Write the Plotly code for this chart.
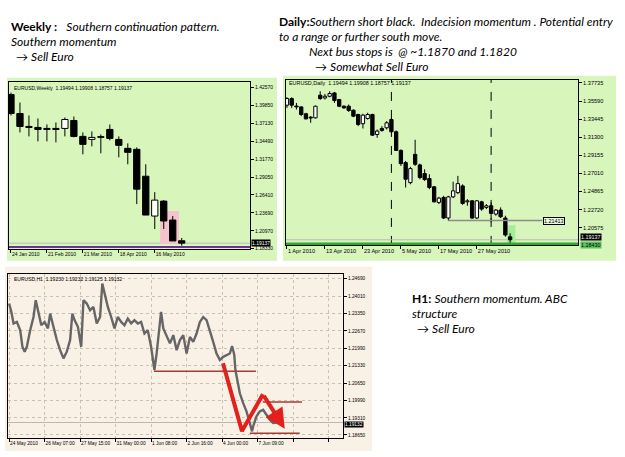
import plotly.graph_objects as go

W, H = 625, 457
def px(x): return x / W
def py(y): return 1 - y / H

# ---------------- Weekly data ----------------
weekly_ticks_idx = [0, 4, 8, 12, 16]
weekly_ticks_txt = ["24 Jan 2010", "21 Feb 2010", "21 Mar 2010", "18 Apr 2010", "16 May 2010"]
weekly_open  = [1.4152, 1.3867, 1.3672, 1.3657, 1.3642, 1.3642, 1.3642, 1.3762, 1.3522, 1.3477,
                1.3507, 1.3627, 1.3477, 1.3342, 1.3327, 1.2922, 1.2322, 1.2547, 1.2262, 1.19494]
weekly_high  = [1.4182, 1.4032, 1.3837, 1.3792, 1.3702, 1.3732, 1.3807, 1.3822, 1.3582, 1.3597,
                1.3552, 1.3702, 1.3522, 1.3417, 1.3357, 1.3102, 1.2682, 1.2562, 1.2322, 1.19908]
weekly_low   = [1.3837, 1.3582, 1.3522, 1.3447, 1.3447, 1.3432, 1.3522, 1.3507, 1.3252, 1.3372,
                1.3267, 1.3462, 1.3207, 1.3102, 1.2502, 1.2337, 1.2127, 1.2127, 1.1947, 1.18757]
weekly_close = [1.3867, 1.3672, 1.3657, 1.3627, 1.3627, 1.3627, 1.3777, 1.3522, 1.3402, 1.3507,
                1.3510, 1.3492, 1.3387, 1.3282, 1.2727, 1.2337, 1.2562, 1.2247, 1.1947, 1.19137]
weekly_yticks = [1.42570, 1.39850, 1.37130, 1.34490, 1.31770, 1.29050, 1.26410, 1.23690, 1.20970, 1.18330]

# ---------------- Daily data ----------------
daily_ticks_idx = [0, 8, 16, 24, 32, 40]
daily_ticks_txt = ["1 Apr 2010", "13 Apr 2010", "23 Apr 2010", "5 May 2010", "17 May 2010", "27 May 2010"]
daily_open  = [1.3510, 1.3589, 1.3494, 1.3490, 1.3408, 1.3362, 1.3360, 1.3628, 1.3596, 1.3616,
               1.3655, 1.3577, 1.3498, 1.3498, 1.3451, 1.3400, 1.3290, 1.3352, 1.3400, 1.3163,
               1.3234, 1.3242, 1.3340, 1.3195, 1.2974, 1.2829, 1.2592, 1.2927, 1.2802, 1.2699,
               1.2640, 1.2542, 1.2357, 1.2416, 1.2172, 1.2423, 1.2473, 1.2553, 1.2364, 1.2376,
               1.2172, 1.2364, 1.2298, 1.2317, 1.2219, 1.2266, 1.2172, 1.19494]
daily_high  = [1.3604, 1.3604, 1.3537, 1.3498, 1.3420, 1.3380, 1.3506, 1.3675, 1.3644, 1.3675,
               1.3667, 1.3585, 1.3510, 1.3518, 1.3459, 1.3408, 1.3408, 1.3420, 1.3408, 1.3222,
               1.3262, 1.3321, 1.3360, 1.3211, 1.2986, 1.2849, 1.2778, 1.3100, 1.2817, 1.2750,
               1.2691, 1.2553, 1.2423, 1.2435, 1.2435, 1.2603, 1.2672, 1.2572, 1.2396, 1.2384,
               1.2384, 1.2376, 1.2337, 1.2357, 1.2278, 1.2298, 1.2199, 1.19908]
daily_low   = [1.3478, 1.3478, 1.3459, 1.3380, 1.3340, 1.3301, 1.3352, 1.3573, 1.3577, 1.3604,
               1.3537, 1.3486, 1.3467, 1.3431, 1.3368, 1.3262, 1.3234, 1.3340, 1.3144, 1.3124,
               1.3195, 1.3222, 1.3183, 1.2967, 1.2790, 1.2534, 1.2572, 1.2790, 1.2632, 1.2612,
               1.2514, 1.2357, 1.2337, 1.2160, 1.2140, 1.2408, 1.2455, 1.2329, 1.2317, 1.2160,
               1.2160, 1.2258, 1.2278, 1.2120, 1.2199, 1.2172, 1.1951, 1.18757]
daily_close = [1.3589, 1.3510, 1.3490, 1.3400, 1.3348, 1.3358, 1.3498, 1.3589, 1.3616, 1.3648,
               1.3565, 1.3498, 1.3478, 1.3447, 1.3380, 1.3282, 1.3392, 1.3400, 1.3155, 1.3203,
               1.3211, 1.3301, 1.3195, 1.2974, 1.2817, 1.2632, 1.2758, 1.2809, 1.2652, 1.2628,
               1.2534, 1.2364, 1.2408, 1.2172, 1.2423, 1.2494, 1.2580, 1.2345, 1.2376, 1.2172,
               1.2376, 1.2278, 1.2317, 1.2227, 1.2266, 1.2187, 1.1971, 1.19137]
daily_yticks = [1.37735, 1.35590, 1.33445, 1.31300, 1.29155, 1.27010, 1.24865, 1.22720, 1.20575]
daily_separators = [22, 43]          # bar index of first bar of May / June
daily_level = 1.21413
daily_level_start, daily_level_end = 34, 53.8

# ---------------- H1 data ----------------
h1_ticks_idx = [0, 32, 64, 96, 128, 160, 192, 224, 256, 288]
h1_ticks_txt = ["24 May 2010", "26 May 07:00", "27 May 15:00", "31 May 00:00", "1 Jun 08:00",
                "2 Jun 16:00", "4 Jun 00:00", "7 Jun 09:00", "", ""]
h1_idx = [0, 2, 4, 7, 10, 12, 14, 16, 19, 22, 24, 26, 29, 32, 35, 37, 40, 43, 46, 49,
          52, 55, 57, 59, 62, 65, 67, 70, 73, 76, 79, 82, 84, 86, 89, 92, 95, 98, 101, 104,
          107, 110, 113, 116, 119, 122, 125, 128, 131, 133, 135, 137, 139, 142, 145, 148, 151, 154, 157, 160,
          163, 166, 169, 172, 175, 178, 181, 184, 187, 190, 193, 196, 199, 201, 203, 204, 206, 208, 211, 214,
          217, 219, 220, 223, 226, 229, 232, 235, 238, 241]
h1_close = [1.2373, 1.2341, 1.2296, 1.2302, 1.2270, 1.2206, 1.2187, 1.2206, 1.2270, 1.2321,
            1.2386, 1.2347, 1.2289, 1.2302, 1.2277, 1.2334, 1.2283, 1.2232, 1.2193, 1.2161,
            1.2187, 1.2232, 1.2334, 1.2309, 1.2283, 1.2206, 1.2386, 1.2373, 1.2347, 1.2360,
            1.2296, 1.2321, 1.2450, 1.2411, 1.2360, 1.2321, 1.2277, 1.2321, 1.2302, 1.2289,
            1.2315, 1.2296, 1.2309, 1.2296, 1.2302, 1.2257, 1.2270, 1.2206, 1.2116, 1.2180,
            1.2270, 1.2341, 1.2277, 1.2251, 1.2219, 1.2251, 1.2193, 1.2232, 1.2251, 1.2180,
            1.2244, 1.2225, 1.2257, 1.2302, 1.2321, 1.2309, 1.2270, 1.2225, 1.2180, 1.2155,
            1.2167, 1.2174, 1.2180, 1.2209, 1.2174, 1.2116, 1.2065, 1.2026, 1.1988, 1.1956,
            1.1911, 1.1879, 1.1898, 1.1937, 1.1956, 1.1962, 1.1943, 1.1924, 1.1911, 1.1913]
h1_yticks = [1.24690, 1.24010, 1.23350, 1.22670, 1.21990, 1.21330, 1.20650, 1.19990, 1.19310, 1.18650]
h1_abc_idx = [192.8, 209.9, 228.8]
h1_abc_px = [1.2142, 1.1880, 1.2022]
h1_arrow_end = (248.5, 1.1889)
h1_levels = [(130.6, 222.5, 1.2111), (228.8, 264.0, 1.1992), (217.0, 262.0, 1.1872)]

GREEN_BG = "#d8f5bc"
LINEN = "#faf1e6"

fig = go.Figure()


def add_candles(o, h, l, c, xa, ya, min_body):
    xs = list(range(len(o)))
    wx, wy = [], []
    for i in xs:
        top, bot = max(o[i], c[i]), min(o[i], c[i])
        wx += [i, i, None, i, i, None]
        wy += [h[i], top, None, bot, l[i], None]
    fig.add_trace(go.Scatter(x=wx, y=wy, mode="lines", xaxis=xa, yaxis=ya,
                             line=dict(color="black", width=1), showlegend=False, hoverinfo="skip"))
    base = [min(o[i], c[i]) for i in xs]
    hgt = [max(abs(c[i] - o[i]), min_body) for i in xs]
    cols = ["white" if c[i] > o[i] else "black" for i in xs]
    fig.add_trace(go.Bar(x=xs, y=hgt, base=base, width=0.7, xaxis=xa, yaxis=ya,
                         marker=dict(color=cols, line=dict(color="black", width=1)),
                         showlegend=False, hoverinfo="skip"))


add_candles(weekly_open, weekly_high, weekly_low, weekly_close, "x", "y", 0.0012)
add_candles(daily_open, daily_high, daily_low, daily_close, "x2", "y2", 0.0010)
fig.add_trace(go.Scatter(x=h1_idx, y=h1_close, mode="lines", xaxis="x3", yaxis="y3",
                         line=dict(color="#666666", width=2.4), showlegend=False, hoverinfo="skip"))
fig.add_trace(go.Scatter(x=h1_abc_idx, y=h1_abc_px, mode="lines", xaxis="x3", yaxis="y3",
                         line=dict(color="#e3211c", width=4), showlegend=False, hoverinfo="skip"))

tickfont = lambda s: dict(family="Liberation Sans", size=s, color="black")


def xax(dom, rng, tv, tt, anchor, fs, grid=False):
    return dict(domain=dom, range=rng, tickvals=tv, ticktext=tt, anchor=anchor, tickangle=0,
                ticklabelposition="outside right", ticks="outside", ticklen=3, tickcolor="black",
                tickfont=tickfont(fs), showline=True, linecolor="black", linewidth=1, mirror=True,
                showgrid=grid, gridcolor="#c9bfb3", griddash="dot", zeroline=False,
                rangeslider=dict(visible=False), fixedrange=True)


def yax(dom, rng, tv, anchor, fs, grid=False):
    return dict(domain=dom, range=rng, tickvals=tv, ticktext=[f"{v:.5f}" for v in tv], anchor=anchor,
                side="right", ticks="outside", ticklen=3, tickcolor="black", tickfont=tickfont(fs),
                showline=True, linecolor="black", linewidth=1, mirror=True,
                showgrid=grid, gridcolor="#c9bfb3", griddash="dot", zeroline=False, fixedrange=True)


shapes = []
# panel backgrounds
shapes.append(dict(type="rect", xref="paper", yref="paper", x0=px(7), x1=px(277), y0=py(262), y1=py(78),
                   fillcolor=GREEN_BG, line=dict(width=0), layer="below"))
shapes.append(dict(type="rect", xref="paper", yref="paper", x0=px(283), x1=px(616), y0=py(262), y1=py(76),
                   fillcolor=GREEN_BG, line=dict(width=0), layer="below"))
shapes.append(dict(type="rect", xref="paper", yref="paper", x0=px(5), x1=px(372), y0=py(453), y1=py(268),
                   fillcolor=LINEN, line=dict(width=0), layer="below"))
# weekly pink highlight
shapes.append(dict(type="rect", xref="x", yref="y", x0=16.6, x1=18.7, y0=1.1902, y1=1.2397,
                   fillcolor="#f5c3cb", line=dict(width=0), layer="below"))
# weekly lines
shapes.append(dict(type="line", xref="x domain", yref="y", x0=0, x1=1, y0=1.19137, y1=1.19137,
                   line=dict(color="#b8b8b8", width=1), layer="below"))
shapes.append(dict(type="line", xref="x domain", yref="y", x0=0, x1=1, y0=1.1857, y1=1.1857,
                   line=dict(color="#6f2f9f", width=2)))
# daily green highlight
shapes.append(dict(type="rect", xref="x2", yref="y2", x0=46.3, x1=48.1, y0=1.1853, y1=1.2085,
                   fillcolor="#a6ec9a", line=dict(width=0), layer="below"))
# daily separators
for s in daily_separators:
    shapes.append(dict(type="line", xref="x2", yref="y2 domain", x0=s, x1=s, y0=0, y1=1,
                       line=dict(color="black", width=1, dash="dash"), layer="below"))
# daily lines
shapes.append(dict(type="line", xref="x2", yref="y2", x0=daily_level_start, x1=daily_level_end,
                   y0=daily_level, y1=daily_level, line=dict(color="#8c8c8c", width=1.5)))
shapes.append(dict(type="line", xref="x2 domain", yref="y2", x0=0, x1=1, y0=1.19137, y1=1.19137,
                   line=dict(color="#b8b8b8", width=1), layer="below"))
shapes.append(dict(type="line", xref="x2 domain", yref="y2", x0=0, x1=1, y0=1.1868, y1=1.1868,
                   line=dict(color="#2ea82e", width=2.5)))
# H1 lines
shapes.append(dict(type="line", xref="x3 domain", yref="y3", x0=0, x1=1, y0=1.19132, y1=1.19132,
                   line=dict(color="#c0b8b0", width=1), layer="below"))
for x0, x1, lv in h1_levels:
    shapes.append(dict(type="line", xref="x3", yref="y3", x0=x0, x1=x1, y0=lv, y1=lv,
                       line=dict(color="#a83b33", width=1.5)))

ann = []
TXT = dict(family="Lato, Liberation Sans, sans-serif", size=12, color="black")


def text(x, y, s, size=12):
    f = dict(TXT); f["size"] = size
    ann.append(dict(xref="paper", yref="paper", x=px(x), y=py(y), text=s, showarrow=False,
                    xanchor="left", yanchor="middle", font=f))


text(9, 27, "<b>Weekly :</b>&nbsp;&nbsp;&nbsp;<i>Southern continuation pattern.</i>")
text(9, 42, "<i>Southern momentum</i>")
text(14, 57, "→ <i>Sell Euro</i>")
text(277, 22, "<b>Daily:</b><i>Southern short black.&nbsp;&nbsp;Indecision momentum . Potential entry</i>")
text(277, 37, "<i>to a range or further south move.</i>")
text(307, 52, "<i>Next bus stops is&nbsp;&nbsp;@ ~1.1870 and 1.1820</i>")
text(313, 67, "→ <i>Somewhat Sell Euro</i>")
text(410, 300, "<b>H1:</b>&nbsp;<i>Southern momentum. ABC</i>")
text(410, 315, "<i>structure</i>")
text(415, 330, "→ <i>Sell Euro</i>")


def small(x, y, s, size=5):
    ann.append(dict(xref="paper", yref="paper", x=px(x), y=py(y), text=s, showarrow=False,
                    xanchor="left", yanchor="middle",
                    font=dict(family="Liberation Sans", size=size, color="black")))


small(12, 88, "EURUSD,Weekly&nbsp;&nbsp;1.19494 1.19908 1.18757 1.19137")
small(287, 83, "EURUSD,Daily&nbsp;&nbsp;1.19494 1.19908 1.18757 1.19137", 5.4)
small(12, 280, "EURUSD,H1&nbsp;&nbsp;1.19230 1.19232 1.19125 1.19132", 5)


def pricebox(x, yref, yval, s, size, bg="black", fc="white"):
    ann.append(dict(xref="paper", yref=yref, x=px(x), y=yval, text=s, showarrow=False, xanchor="left",
                    yanchor="middle", bgcolor=bg, borderpad=0,
                    font=dict(family="Liberation Sans", size=size, color=fc)))


pricebox(251, "paper", py(244.5), "1.19137", 5)
pricebox(580, "paper", py(238), "1.19137", 5.4)
pricebox(580, "paper", py(246.5), "1.18430", 5.4, bg="#5cc45c", fc="black")
pricebox(344, "paper", py(426.5), "1.19132", 4.8)
ann.append(dict(xref="x2", yref="y2", x=53.9, y=daily_level, text="1.21413", showarrow=False,
                xanchor="left", yanchor="middle", bgcolor="#eaf9e0", bordercolor="black", borderwidth=1,
                borderpad=0, font=dict(family="Liberation Sans", size=5.4, color="black")))
# ABC arrow final leg
ann.append(dict(xref="x3", yref="y3", axref="x3", ayref="y3", x=h1_arrow_end[0], y=h1_arrow_end[1],
                ax=h1_abc_idx[-1], ay=h1_abc_px[-1], text="", showarrow=True, arrowhead=2,
                arrowsize=1.0, arrowwidth=4, arrowcolor="#e3211c"))

fig.update_layout(
    width=W, height=H, margin=dict(l=0, r=0, t=0, b=0),
    paper_bgcolor="white", plot_bgcolor="rgba(0,0,0,0)", showlegend=False, barmode="overlay",
    xaxis=xax([px(9), px(250)], [-0.22, 26.6], weekly_ticks_idx, weekly_ticks_txt, "y", 5),
    yaxis=yax([py(250), py(82)], [1.1827, 1.4347], weekly_yticks, "x", 5),
    xaxis2=xax([px(286), px(578)], [-0.2, 61.3], daily_ticks_idx, daily_ticks_txt, "y2", 5.6),
    yaxis2=yax([py(246), py(80)], [1.1853, 1.3813], daily_yticks, "x2", 5.6),
    xaxis3=xax([px(8), px(343)], [-1, 301], h1_ticks_idx, h1_ticks_txt, "y3", 4.8, grid=True),
    yaxis3=yax([py(440), py(275)], [1.1853, 1.2488], h1_yticks, "x3", 4.8, grid=True),
    shapes=shapes, annotations=ann,
)

fig.write_html("out.html")
